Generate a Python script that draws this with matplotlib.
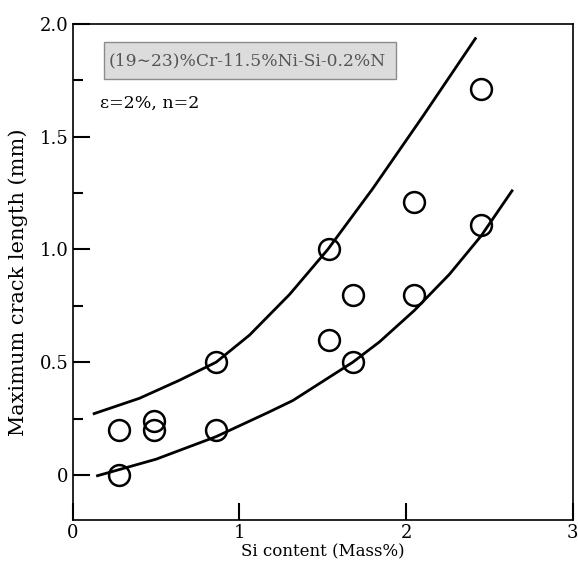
import matplotlib
matplotlib.use("Agg")
import matplotlib.pyplot as plt
from matplotlib.patches import Rectangle
from matplotlib.ticker import MultipleLocator

# Measured points: Si content (mass%) vs maximum crack length (mm)
si_content = [0.28, 0.28, 0.49, 0.49, 0.86, 0.86, 1.54, 1.54, 1.68, 1.68, 2.05, 2.05, 2.45, 2.45]
crack_length = [0.20, 0.00, 0.24, 0.20, 0.50, 0.20, 1.00, 0.60, 0.80, 0.50, 1.21, 0.80, 1.71, 1.11]

# Upper envelope curve
upper_x = [0.12, 0.40, 0.64, 0.86, 1.06, 1.30, 1.53, 1.80, 2.10, 2.42]
upper_y = [0.27, 0.34, 0.42, 0.50, 0.62, 0.80, 1.00, 1.27, 1.59, 1.94]

# Lower envelope curve
lower_x = [0.14, 0.50, 0.86, 1.18, 1.32, 1.68, 1.84, 2.05, 2.26, 2.45, 2.64]
lower_y = [-0.005, 0.07, 0.17, 0.28, 0.33, 0.50, 0.59, 0.73, 0.89, 1.06, 1.265]

x_ticks = [0, 1, 2, 3]
y_ticks = [0, 0.5, 1.0, 1.5, 2.0]
y_tick_labels = ["0", "0.5", "1.0", "1.5", "2.0"]

plt.rcParams["font.family"] = ["DejaVu Serif"]

fig = plt.figure(figsize=(5.78, 5.69), dpi=100)
ax = fig.add_axes([0.126, 0.086, 0.865, 0.872])

ax.plot(upper_x, upper_y, color="black", linewidth=2.0, solid_capstyle="butt")
ax.plot(lower_x, lower_y, color="black", linewidth=2.0, solid_capstyle="butt")
ax.plot(si_content, crack_length, linestyle="none", marker="o", markersize=15,
        markerfacecolor="none", markeredgecolor="black", markeredgewidth=1.8)

ax.set_xlim(0, 3)
ax.set_ylim(-0.2, 2.0)
ax.set_xticks(x_ticks)
ax.set_xticklabels([str(t) for t in x_ticks])
ax.set_yticks(y_ticks)
ax.set_yticklabels(y_tick_labels)
ax.yaxis.set_minor_locator(MultipleLocator(0.25))

ax.tick_params(axis="both", which="major", direction="in", length=12, width=1.5,
               labelsize=13, pad=3)
ax.tick_params(axis="y", which="minor", direction="in", length=7, width=1.5)
for spine in ax.spines.values():
    spine.set_linewidth(1.2)

ax.set_xlabel("Si content (Mass%)", fontsize=12, labelpad=1)
ax.set_ylabel("Maximum crack length (mm)", fontsize=15)
ax.yaxis.set_label_coords(-0.09, 0.48)

# Alloy label in a grey box
ax.add_patch(Rectangle((0.062, 0.889), 0.584, 0.075, transform=ax.transAxes,
                       facecolor="#dcdcdc", edgecolor="#8c8c8c", linewidth=1.0))
ax.text(0.071, 0.926, "(19∼23)%Cr-11.5%Ni-Si-0.2%N", transform=ax.transAxes,
        fontsize=12.3, color="#555555", va="center", ha="left")
ax.text(0.054, 0.839, "ε=2%, n=2", transform=ax.transAxes, fontsize=12.5,
        va="center", ha="left")

fig.savefig("out.png", dpi=100)
